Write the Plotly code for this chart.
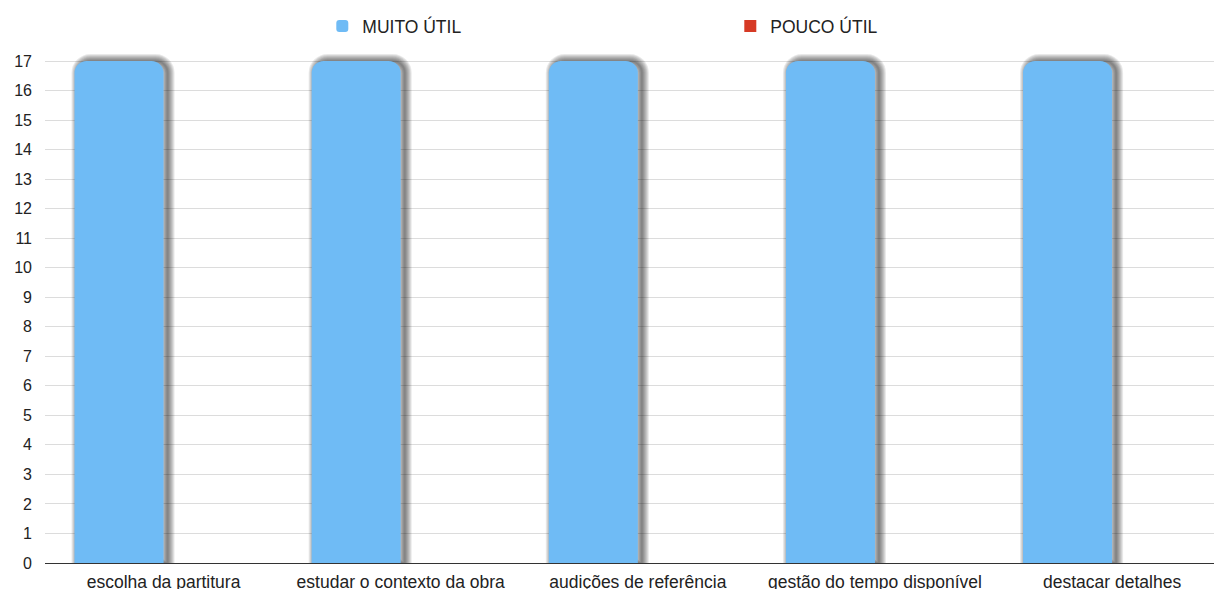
import plotly.graph_objects as go

categories = ["escolha da partitura", "estudar o contexto da obra", "audições de referência",
              "gestão do tempo disponível", "destacar detalhes"]
muito_util = [17, 17, 17, 17, 17]
pouco_util = [0, 0, 0, 0, 0]
y_ticks = list(range(0, 18))

BLUE = "#6FBBF5"
RED = "#D63A25"
FONT = "Liberation Sans, Arial, Helvetica, sans-serif"

PX_PER_CAT = 237.0
BAR_W = 89 / PX_PER_CAT

fig = go.Figure()

# soft drop shadow behind the blue bars (stacked translucent strokes)
for k in range(1, 8):
    fig.add_trace(go.Bar(
        x=categories, y=muito_util, width=BAR_W, offset=-BAR_W + 4 / PX_PER_CAT,
        marker=dict(color="rgba(0,0,0,0)", cornerradius=12,
                    line=dict(width=2.0 * k, color="rgba(0,0,0,0.085)")),
        showlegend=False, hoverinfo="skip"))

fig.add_trace(go.Bar(name="MUITO ÚTIL", x=categories, y=muito_util,
                     width=BAR_W, offset=-BAR_W,
                     marker=dict(color=BLUE, line=dict(width=0), cornerradius=12)))
fig.add_trace(go.Bar(name="POUCO ÚTIL", x=categories, y=pouco_util,
                     width=BAR_W, offset=0,
                     marker=dict(color=RED, line=dict(width=0))))

# page body adds an 8px offset; margins compensate for it
fig.update_layout(
    width=1222, height=589,
    margin=dict(l=37, r=10, t=43, b=34, pad=0, autoexpand=False),
    barmode="overlay",
    plot_bgcolor="white", paper_bgcolor="white",
    font=dict(family=FONT, size=16, color="#222"),
    legend=dict(orientation="h", x=0.236, xanchor="left", y=1.0, yanchor="top",
                yref="container", entrywidth=363, entrywidthmode="pixels",
                font=dict(size=17.5, color="#222")),
    showlegend=True,
)
fig.update_xaxes(range=[-0.5, 4.455], showgrid=False, showline=True, linecolor="#333",
                 linewidth=1, ticks="", tickfont=dict(size=17.5, color="#222"),
                 ticklabelstandoff=3, automargin=False)
fig.update_yaxes(range=[0, 17.34], tickvals=y_ticks, showgrid=True, gridcolor="#DCDCDC",
                 gridwidth=1, zeroline=False, ticks="", tickfont=dict(size=16, color="#222"),
                 ticklabelstandoff=12, showline=False, automargin=False)

fig.write_html("out.html")
